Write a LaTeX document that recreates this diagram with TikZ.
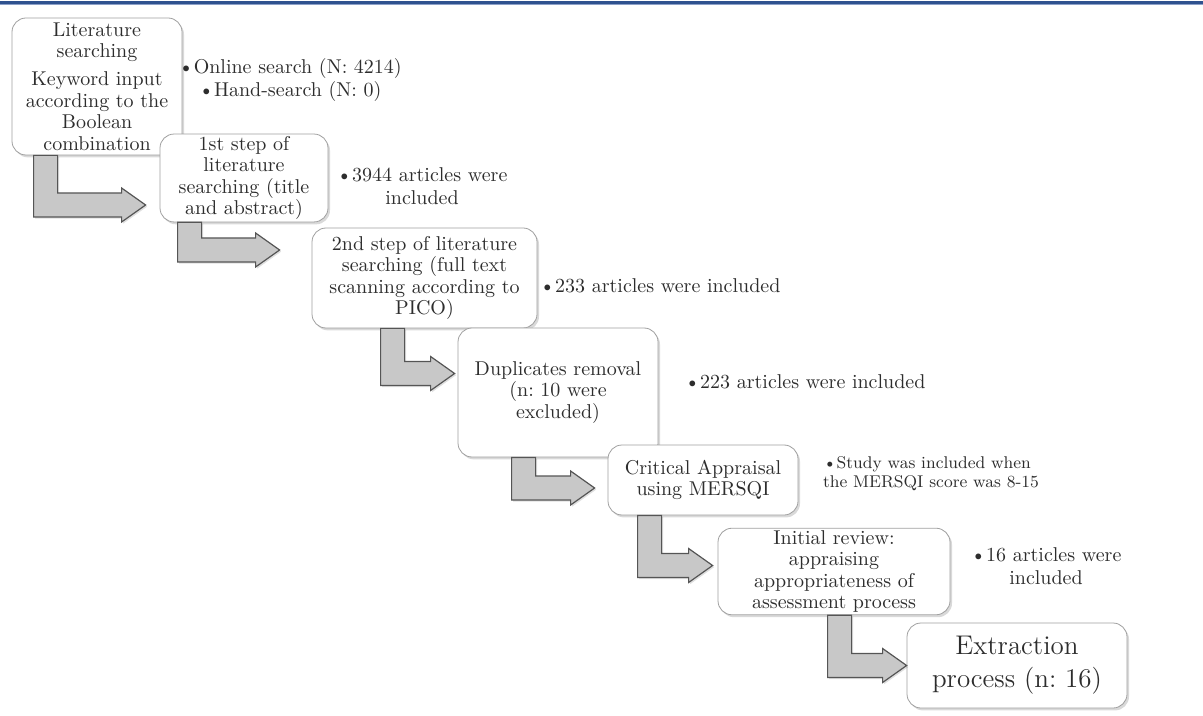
\documentclass[tikz,border=0pt]{standalone}
\usetikzlibrary{calc,shadows}

\definecolor{boxline}{RGB}{160,160,160}
\definecolor{txt}{RGB}{45,45,45}
\definecolor{arrfill}{RGB}{200,200,200}
\definecolor{arrline}{RGB}{85,85,85}
\definecolor{topblue}{RGB}{47,82,143}
\definecolor{topblue2}{RGB}{140,160,200}

% bent arrow: from node, shaft offset, to node, tip offset
\newcommand{\bentarrow}[4]{%
  \draw[barrow] let \p1=($(#1.south west)+(#2,0)$), \p2=($(#3.west)+#4$) in
    (\x1,\y1) -- (\x1,{\y2-6pt}) -- ({\x2-12pt},{\y2-6pt}) -- ({\x2-12pt},{\y2-8.5pt})
    -- (\x2,\y2) -- ({\x2-12pt},{\y2+8.5pt}) -- ({\x2-12pt},{\y2+6pt})
    -- ({\x1+12pt},{\y2+6pt}) -- ({\x1+12pt},\y1) -- cycle;}

\begin{document}
\frenchspacing
\begin{tikzpicture}[x=0.5pt,y=-0.5pt,
box/.style = {draw=boxline, fill=white, rounded corners=7pt, align=center, text=txt,
  font=\fontsize{10}{10.8}\selectfont, inner sep=1pt,
  drop shadow={shadow xshift=1pt, shadow yshift=-1.2pt, opacity=0.3}},
note/.style = {text=txt, font=\fontsize{10}{11.5}\selectfont, align=center},
barrow/.style = {draw=arrline, fill=arrfill, line width=0.6pt, line join=miter,
  drop shadow={shadow xshift=0.8pt, shadow yshift=-0.8pt, opacity=0.25}}
]
  \useasboundingbox (0,0) rectangle (1203,716);
  \fill[topblue] (0,1) rectangle (1203,4);
  \draw[topblue2, line width=0.6pt] (0,4.6) -- (1203,4.6);

  \node[box, minimum width=85pt, minimum height=68.5pt] (lit) at (97,86.5)
    {Literature\\searching\\[3pt]Keyword input\\according to the\\Boolean\\combination};
  \node[box, minimum width=84pt, minimum height=43pt] (first) at (244,178)
    {1st step of\\literature\\searching (title\\and abstract)};
  \node[box, minimum width=112.5pt, minimum height=50pt] (second) at (424.5,278)
    {2nd step of literature\\searching (full text\\scanning according to\\PICO)};
  \node[box, minimum width=100pt, minimum height=64.5pt] (dup) at (558,392.5)
    {Duplicates removal\\(n: 10 were\\excluded)};
  \node[box, minimum width=95pt, minimum height=35pt] (crit) at (703,480)
    {Critical Appraisal\\using MERSQI};
  \node[box, minimum width=116pt, minimum height=41.5pt] (init) at (834,571.5)
    {Initial review:\\appraising\\appropriateness of\\assessment process};
  \node[box, font=\fontsize{13.5}{16.5}\selectfont, minimum width=110pt, minimum height=42.5pt] (extr) at (1017,665.5)
    {Extraction\\process (n: 16)};

  \node[note] (n1) at (290,80) {\textbullet Online search (N: 4214)\\\textbullet Hand-search (N: 0)};
  \node[note] (n2) at (422,186) {\textbullet 3944 articles were\\included};
  \node[note] (n3) at (660,286) {\textbullet 233 articles were included};
  \node[note] (n4) at (805,382) {\textbullet 223 articles were included};
  \node[note, font=\fontsize{8.5}{9.5}\selectfont, align=left, anchor=west] (n5) at (816,474)
    {\textbullet Study was included when\\the MERSQI score was 8-15};
  \node[note] (n6) at (1046,566) {\textbullet 16 articles were\\included};

  \bentarrow{lit}{22}{first}{(-14,27)}
  \bentarrow{first}{18}{second}{(-32,-28)}
  \bentarrow{second}{69}{dup}{(-3,-19)}
  \bentarrow{dup}{54}{crit}{(-13,8)}
  \bentarrow{crit}{30}{init}{(-5,-6)}
  \bentarrow{init}{110}{extr}{(0,0)}
\end{tikzpicture}
\end{document}
